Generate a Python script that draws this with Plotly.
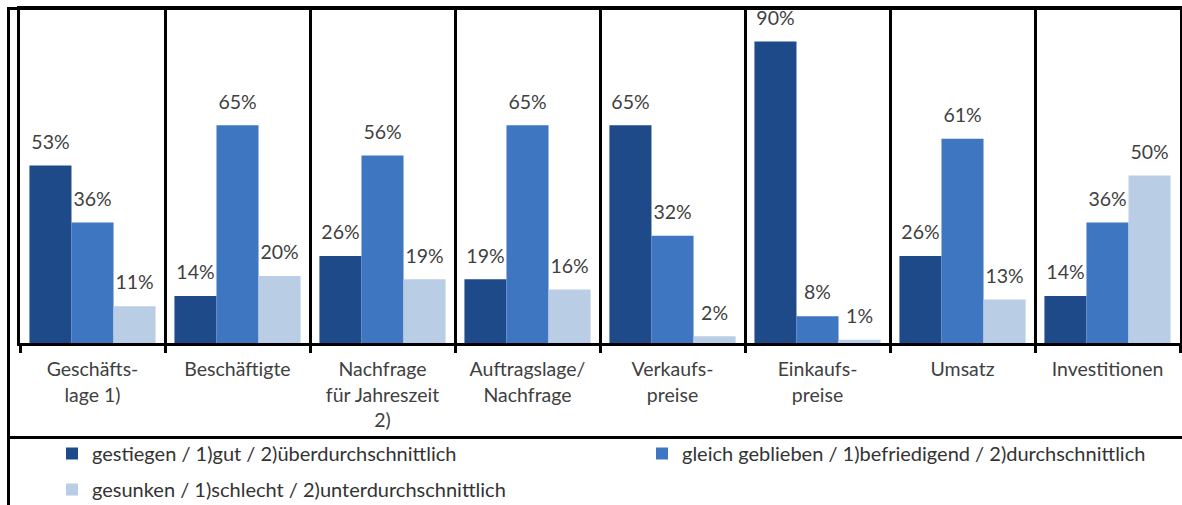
import plotly.graph_objects as go

categories = ["Geschäfts-<br>lage 1)", "Beschäftigte", "Nachfrage<br>für Jahreszeit<br>2)",
              "Auftragslage/<br>Nachfrage", "Verkaufs-<br>preise", "Einkaufs-<br>preise",
              "Umsatz", "Investitionen"]
series_names = ["gestiegen / 1)gut / 2)überdurchschnittlich",
                "gleich geblieben / 1)befriedigend / 2)durchschnittlich",
                "gesunken / 1)schlecht / 2)unterdurchschnittlich"]
gestiegen = [53, 14, 26, 19, 65, 90, 26, 14]
gleich = [36, 65, 56, 65, 32, 8, 61, 36]
gesunken = [11, 20, 19, 16, 2, 1, 13, 50]
colors = ["#1F4A8A", "#3F76C2", "#B9CDE5"]

W, H = 1182, 505
L, R, T, B = 20, 2, 9, 162
PW = W - L - R
PH = H - T - B


def px_x(px):
    return (px - L) / PW


def px_y(py):
    return (H - B - py) / PH


FONT = "Lato"
TXT = "#404040"

fig = go.Figure()
legends = ["legend", "legend2", "legend3"]
label_tpl = ("<span style='font-size:19.5px'>%{y}%</span>"
             "<br><span style='color:rgba(0,0,0,0)'>.</span>")
for vals, name, col, lg in zip([gestiegen, gleich, gesunken], series_names, colors, legends):
    fig.add_trace(go.Bar(
        x=categories, y=vals, name=name, marker_color=col, marker_line_width=0,
        texttemplate=label_tpl, textposition="outside", cliponaxis=False,
        constraintext="none",
        textfont=dict(family=FONT, size=9, color=TXT), legend=lg,
    ))

leg_common = dict(orientation="h", xanchor="left", yanchor="top", bgcolor="rgba(0,0,0,0)",
                  font=dict(family=FONT, size=20, color="#333333"))

fig.update_layout(
    width=W, height=H,
    margin=dict(l=L, r=R, t=T, b=B, autoexpand=False),
    paper_bgcolor="white", plot_bgcolor="white",
    barmode="group", bargap=0.13, bargroupgap=0,
    showlegend=True,
    legend=dict(x=px_x(52), y=px_y(434), **leg_common),
    legend2=dict(x=px_x(642), y=px_y(434), **leg_common),
    legend3=dict(x=px_x(52), y=px_y(470), **leg_common),
    xaxis=dict(
        showline=True, mirror=True, linecolor="black", linewidth=3,
        tickson="boundaries", ticks="outside", ticklen=7, tickwidth=3, tickcolor="black",
        showgrid=True, gridcolor="black", gridwidth=3,
        tickfont=dict(family=FONT, size=19.5, color=TXT),
        ticklabelstandoff=7,
    ),
    yaxis=dict(
        range=[0, 99.7], showline=True, mirror=True, linecolor="black", linewidth=3,
        showgrid=False, zeroline=False, showticklabels=False, ticks="",
    ),
    shapes=[
        dict(type="line", xref="paper", yref="paper", x0=px_x(8.5), x1=px_x(8.5),
             y0=px_y(8), y1=px_y(505), line=dict(color="black", width=3)),
        dict(type="line", xref="paper", yref="paper", x0=px_x(7), x1=px_x(1182),
             y0=px_y(8.5), y1=px_y(8.5), line=dict(color="black", width=3)),
        dict(type="line", xref="paper", yref="paper", x0=px_x(7), x1=px_x(1182),
             y0=px_y(437.5), y1=px_y(437.5), line=dict(color="black", width=3)),
    ],
)

fig.write_html("out.html", config={"displayModeBar": False},
               post_script="document.body.style.margin='0';")
